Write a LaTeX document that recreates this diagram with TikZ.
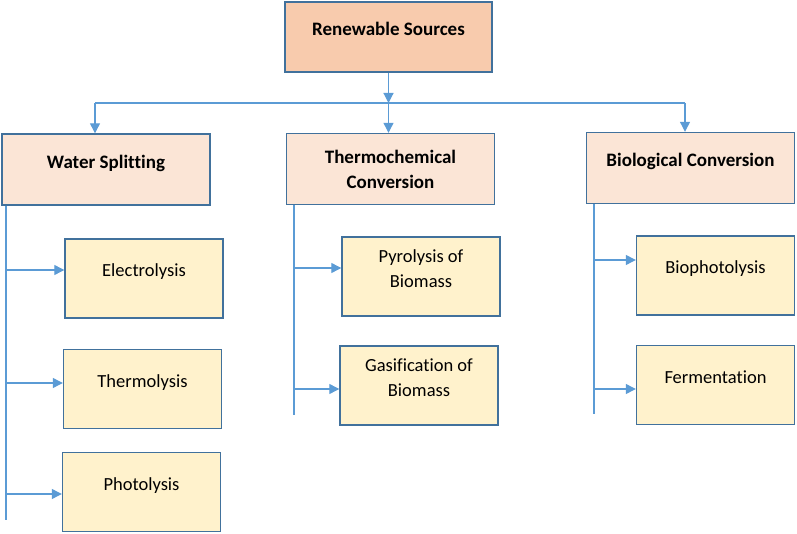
\documentclass[tikz,border=0pt]{standalone}
\usepackage{fontspec}
\setmainfont{Carlito}[Ligatures=NoCommon]
\usetikzlibrary{arrows.meta, positioning}
\definecolor{boxline}{HTML}{41719C}
\definecolor{linkblue}{HTML}{5B9BD5}
\definecolor{sourcefill}{HTML}{F8CBAD}
\definecolor{groupfill}{HTML}{FBE5D6}
\definecolor{methodfill}{HTML}{FFF2CC}
\tikzset{
    box/.style={draw=boxline, line width=1.4pt, align=center, text depth=16pt,
        font=\fontsize{18.5}{25}\selectfont},
    source/.style={box, fill=sourcefill, minimum width=207pt, minimum height=70pt,
        font=\bfseries\fontsize{19}{25}\selectfont},
    group/.style={box, fill=groupfill, minimum width=208pt, minimum height=71pt,
        font=\bfseries\fontsize{19}{25}\selectfont},
    method/.style={box, fill=methodfill, minimum width=158pt, minimum height=79pt},
    branch/.style={draw=linkblue, line width=1.2pt, -{Triangle[length=10pt, width=10pt]}},
    trunk/.style={draw=linkblue, line width=2.8pt},
}

\begin{document}
\begin{tikzpicture}[x=1pt, y=-1pt]
    \useasboundingbox (0,0) rectangle (797,534);

    \node[source] (src) at (388.5,37) {Renewable Sources};

    \node[group] (ws) at (106,169.5) {Water Splitting};
    \node[group, text depth={}] (tc) at (390.5,169) {Thermochemical\\Conversion};
    \node[group] (bc) at (690.5,168) {Biological Conversion};

    \node[method] (elec) at (144,278.5) {Electrolysis};
    \node[method] (therm) at (142.5,389) {Thermolysis};
    \node[method] (photo) at (141.5,492) {Photolysis};
    \node[method] (pyro) at (421,276.5) {Pyrolysis of\\Biomass};
    \node[method] (gasi) at (419,385.5) {Gasification of\\Biomass};
    \node[method] (biop) at (715.5,275.5) {Biophotolysis};
    \node[method] (ferm) at (715.5,385) {Fermentation};

    \coordinate (barL) at (95,103);
    \coordinate (barR) at (685,103);
    \coordinate (wsEnd) at (6,520);
    \coordinate (tcEnd) at (294,415);
    \coordinate (bcEnd) at (594,414);

    \coordinate (e1) at ([yshift=8.5pt]elec.west);
    \coordinate (e2) at ([yshift=6pt]therm.west);
    \coordinate (e3) at ([yshift=-2pt]photo.west);
    \coordinate (e4) at ([yshift=8.5pt]pyro.west);
    \coordinate (e5) at ([yshift=-3.5pt]gasi.west);
    \coordinate (e6) at ([yshift=15.5pt]biop.west);
    \coordinate (e7) at ([yshift=-4pt]ferm.west);

    \draw[branch] (src.south) -- (src.south |- barL);
    \draw[draw=linkblue, line width=1.2pt] (barL) -- (barR);
    \draw[branch] (barL) -- (barL |- ws.north);
    \draw[branch] (src.south |- barL) -- (src.south |- tc.north);
    \draw[branch] (barR) -- (barR |- bc.north);

    \draw[trunk] (ws.south -| wsEnd) -- (wsEnd);
    \draw[trunk] (tc.south -| tcEnd) -- (tcEnd);
    \draw[trunk] (bc.south -| bcEnd) -- (bcEnd);

    \draw[branch] (wsEnd |- e1) -- (e1);
    \draw[branch] (wsEnd |- e2) -- (e2);
    \draw[branch] (wsEnd |- e3) -- (e3);
    \draw[branch] (tcEnd |- e4) -- (e4);
    \draw[branch] (tcEnd |- e5) -- (e5);
    \draw[branch] (bcEnd |- e6) -- (e6);
    \draw[branch] (bcEnd |- e7) -- (e7);
\end{tikzpicture}
\end{document}
